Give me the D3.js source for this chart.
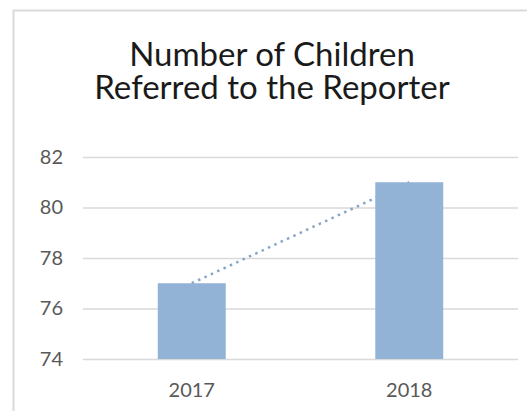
<!DOCTYPE html>
<html>
<head>
<meta charset="utf-8">
<script src="https://cdn.jsdelivr.net/npm/d3@7"></script>
<style>
  html, body { margin: 0; padding: 0; background: #fff; }
  svg { display: block; }
  text { font-family: Lato, "Open Sans", sans-serif; }
</style>
</head>
<body>
<script>
var years = ["2017", "2018"],
    children = [77, 81],
    yTicks = [74, 76, 78, 80, 82],
    titleLines = ["Number of Children", "Referred to the Reporter"];

var width = 527,
    height = 411,
    barColor = "#93b3d6",
    gridColor = "#d9d9d9",
    labelColor = "#595959";

var svg = d3.select("body").append("svg")
    .attr("width", width)
    .attr("height", height);

// chart frame (runs off the right and bottom of the picture)
svg.append("rect")
   .attr("x", 13.5)
   .attr("y", 10.5)
   .attr("width", 530)
   .attr("height", 420)
   .style("fill", "#fff")
   .style("stroke", gridColor)
   .style("stroke-width", 2);

var x = d3.scaleBand()
    .domain(years)
    .range([83, 518])
    .paddingInner(0.6875)
    .paddingOuter(0.34375);

var y = d3.scaleLinear()
    .domain([74, 82])
    .range([359, 157]);

// title: one text, two lines
svg.append("text")
   .attr("y", 66)
   .attr("text-anchor", "middle")
   .style("font-size", "33px")
   .style("fill", "#1a1a1a")
   .selectAll("tspan")
   .data(titleLines)
   .enter().append("tspan")
   .attr("x", 272)
   .attr("dy", function(d, i) {return i ? 33 : 0; })
   .text(function(d) {return d; });

// gridlines + y labels
var yAxis = svg.append("g")
    .attr("transform", "translate(83,0)")
    .call(d3.axisLeft(y).tickValues(yTicks).tickSize(-435).tickPadding(20));
yAxis.select(".domain").remove();
yAxis.selectAll(".tick line").style("stroke", gridColor).style("stroke-width", 1.5);
yAxis.selectAll(".tick text")
     .style("font-family", "Lato, sans-serif")
     .style("font-size", "20px")
     .style("fill", labelColor);

// x labels
var xAxis = svg.append("g")
    .attr("transform", "translate(0,359)")
    .call(d3.axisBottom(x).tickSize(0).tickPadding(24));
xAxis.select(".domain").remove();
xAxis.selectAll(".tick text")
     .style("font-family", "Lato, sans-serif")
     .style("font-size", "20px")
     .style("fill", labelColor);

// linear trendline, least squares over the category index
var n = children.length,
    xs = d3.range(n),
    mx = d3.mean(xs),
    my = d3.mean(children),
    slope = d3.sum(xs, function(d, i) {return (d - mx) * (children[i] - my); }) /
            d3.sum(xs, function(d) {return (d - mx) * (d - mx); }),
    icpt = my - slope * mx;

var trend = xs.map(function(i) {
    return [x(years[i]) + x.bandwidth() / 2, y(icpt + slope * i)];
});

svg.append("path")
   .attr("d", d3.line()(trend))
   .style("fill", "none")
   .style("stroke", "#87a5c8")
   .style("stroke-width", 2.5)
   .style("stroke-dasharray", "2.5,4.5");

// bars (drawn after the trendline so the 2018 bar covers its end)
svg.append("g").selectAll("rect")
   .data(children)
   .enter().append("rect")
   .attr("x", function(d, i) {return x(years[i]); })
   .attr("y", function(d) {return y(d); })
   .attr("width", x.bandwidth())
   .attr("height", function(d) {return y(74) - y(d); })
   .style("fill", barColor);
</script>
</body>
</html>
